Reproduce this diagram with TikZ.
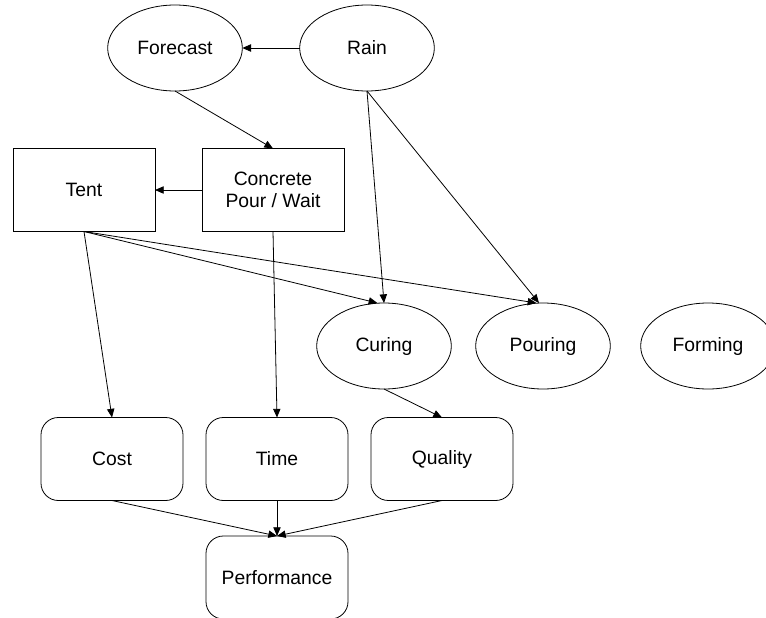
\documentclass[tikz,border=0pt]{standalone}
\usepackage{fontspec}
\setmainfont{Liberation Sans}
\usetikzlibrary{shapes.geometric,arrows.meta}
\begin{document}
\begin{tikzpicture}[x=0.75pt,y=-0.75pt,
  every node/.style={font=\fontsize{14.5}{16.3}\selectfont, align=center, inner sep=0pt, outer sep=0pt, line width=0.6pt},
  chance/.style={draw, ellipse, minimum width=101pt, minimum height=64.5pt},
  decision/.style={draw, rectangle, minimum width=106.5pt, minimum height=62.25pt},
  value/.style={draw, rectangle, rounded corners=13pt, minimum width=106.5pt, minimum height=62.25pt},
  link/.style={line width=0.6pt, -{Triangle[length=6.5pt,width=5.5pt]}}]
\useasboundingbox (0,0) rectangle (766,617);

% chance nodes
\node[chance] (forecast) at (175,48) {Forecast};
\node[chance] (rain) at (367,48) {Rain};
\node[chance] (curing) at (384,346) {Curing};
\node[chance] (pouring) at (543,346) {Pouring};
\node[chance] (forming) at (708,346) {Forming};

% decision nodes
\node[decision] (tent) at (84,190) {Tent};
\node[decision] (pour) at (273,190) {Concrete\\Pour / Wait};

% value nodes
\node[value] (cost) at (112,459) {Cost};
\node[value] (time) at (277,459) {Time};
\node[value] (quality) at (442,459) {Quality};
\node[value] (perf) at (277,577.5) {Performance};

% influences
\draw[link] (rain.west) -- (forecast.east);
\draw[link] (forecast.south) -- (pour.north);
\draw[link] (pour.west) -- (tent.east);
\draw[link] (rain.south) -- (curing.north);
\draw[link] (rain.south) -- ([xshift=-3]pouring.north);
\draw[link] (tent.south) -- ([xshift=-5]curing.north);
\draw[link] (tent.south) -- ([xshift=-5]pouring.north);
\draw[link] (tent.south) -- (cost.north);
\draw[link] (pour.south) -- (time.north);
\draw[link] (curing.south) -- (quality.north);
\draw[link] (cost.south) -- (perf.north);
\draw[link] (time.south) -- (perf.north);
\draw[link] (quality.south) -- (perf.north);
\end{tikzpicture}
\end{document}
